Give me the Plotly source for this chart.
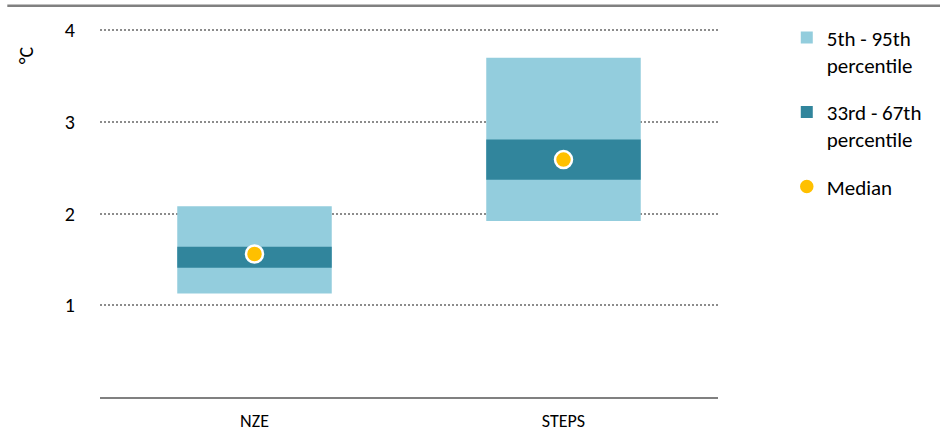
import plotly.graph_objects as go

# Data (degrees C)
scenarios = ['NZE', 'STEPS']
p5 = [1.13, 1.92]
p95 = [2.08, 3.70]
p33 = [1.41, 2.37]
p67 = [1.64, 2.81]
median = [1.56, 2.59]

light = '#93CDDD'
dark = '#31859C'
gold = '#FFC000'
font_family = 'Carlito, Lato, "Open Sans", sans-serif'

fig = go.Figure()

# 5th - 95th range box
fig.add_trace(go.Bar(
    x=scenarios,
    y=[hi - lo for lo, hi in zip(p5, p95)],
    base=p5,
    name='5th - 95th<br>percentile',
    legendgroup='a',
    marker=dict(color=light, line=dict(width=0)),
    width=0.5,
))

# 33rd - 67th range box
fig.add_trace(go.Bar(
    x=scenarios,
    y=[hi - lo for lo, hi in zip(p33, p67)],
    base=p33,
    name='33rd - 67th<br>percentile',
    legendgroup='b',
    marker=dict(color=dark, line=dict(width=0)),
    width=0.5,
))

# Median dots
fig.add_trace(go.Scatter(
    x=scenarios,
    y=median,
    mode='markers',
    name='Median',
    legendgroup='c',
    marker=dict(color=gold, size=17, line=dict(color='white', width=2.5)),
))

fig.update_layout(
    width=940,
    height=431,
    margin=dict(l=100, r=222, t=12, b=34),
    barmode='overlay',
    plot_bgcolor='white',
    paper_bgcolor='white',
    font=dict(family=font_family, size=20, color='#000000'),
    showlegend=True,
    legend=dict(
        xref='container', yref='container',
        x=0.837, y=0.96, xanchor='left', yanchor='top',
        font=dict(size=21),
        tracegroupgap=17,
        itemwidth=30,
        valign='top',
    ),
    xaxis=dict(
        showline=True, linecolor='#808080', linewidth=2,
        showgrid=False, ticks='', ticklabelstandoff=6,
        tickfont=dict(size=18), automargin=False,
    ),
    yaxis=dict(
        range=[0, 4.2],
        tickvals=[1, 2, 3, 4],
        showgrid=True, gridcolor='#8c8c8c', gridwidth=2, griddash='2px,2px',
        zeroline=False, showline=False, ticks='',
        ticklabelstandoff=24,
        tickfont=dict(size=20), automargin=False,
    ),
)

# degree unit label
fig.add_annotation(
    text='°C', xref='paper', yref='paper',
    x=-0.143, y=0.915, textangle=-90, showarrow=False,
    font=dict(size=20),
)

# top rule across the chart
fig.add_shape(
    type='line', xref='paper', yref='paper',
    x0=-0.150, x1=1.36, y0=1.016, y1=1.016,
    line=dict(color='#808080', width=2.5),
)

fig.write_html(
    "out.html",
    config={'displayModeBar': False},
    post_script="document.body.style.margin='0';",
)
